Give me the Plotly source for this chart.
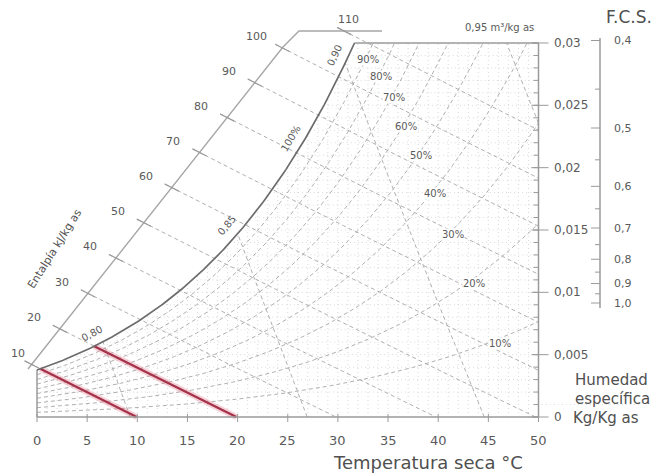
import numpy as np
import plotly.graph_objects as go

# ---------------- data ----------------
temp_ticks = [0, 5, 10, 15, 20, 25, 30, 35, 40, 45, 50]
w_ticks = [0.0, 0.005, 0.010, 0.015, 0.020, 0.025, 0.030]
w_tick_labels = ["0", "0,005", "0,01", "0,015", "0,02", "0,025", "0,03"]
rh_levels = [10, 20, 30, 40, 50, 60, 70, 80, 90]
rh_labels = ["10%", "20%", "30%", "40%", "50%", "60%", "70%", "80%", "90%"]
enthalpy_levels = [10, 20, 30, 40, 50, 60, 70, 80, 90, 100, 110]
enthalpy_labels = ["10", "20", "30", "40", "50", "60", "70", "80", "90", "100", "110"]
highlight_enthalpy = [10, 20]
volume_levels = [0.80, 0.85, 0.90, 0.95]
volume_labels = ["0,80", "0,85", "0,90", "0,95 m³/kg as"]
fcs_levels = [0.4, 0.5, 0.6, 0.7, 0.8, 0.9, 1.0]
fcs_labels = ["0,4", "0,5", "0,6", "0,7", "0,8", "0,9", "1,0"]
fcs_minor = [0.45, 0.55, 0.65, 0.75, 0.85, 0.95]
grid_temps = list(range(1, 50))
grid_ws = [i / 1000 for i in range(1, 30)]

# ---------------- layout constants ----------------
FIG_W, FIG_H = 659, 474
X0_PX, XS = 37.0, 10.03      # pixel of T=0, px per degC
Y0_PX, YS = 417.0, 12467.0   # pixel of W=0, px per kg/kg
T_MAX, W_MAX = 50.0, 0.030
P_ATM = 101.325
FONT = "DejaVu Sans"
TXT = "#5a5a5a"


def T_of_px(px):
    return (px - X0_PX) / XS


def W_of_py(py):
    return (Y0_PX - py) / YS


def dT(px):
    return px / XS


def dW(py_down):
    return -py_down / YS


# enthalpy scale polyline (pixel geometry of the guide line)
SCALE_PX = [(28, 369), (283, 47), (299, 31), (382, 31)]
SCALE_T = [T_of_px(p[0]) for p in SCALE_PX]
SCALE_W = [W_of_py(p[1]) for p in SCALE_PX]

# F.C.S. protractor scale geometry
FCS_T = T_of_px(600)
FCS_W0 = W_of_py(303)
FCS_K = 175.0 / YS


# ---------------- psychrometrics ----------------
def pws(T):
    return 0.61078 * np.exp(17.27 * T / (T + 237.3))


def w_rh(T, phi):
    p = phi * pws(T)
    return 0.622 * p / (P_ATM - p)


def h_of(T, Wv):
    return 1.006 * T + Wv * (2501 + 1.86 * T)


def w_h(T, h):
    return (h - 1.006 * T) / (2501 + 1.86 * T)


def t_v(Wv, v):
    return v * P_ATM / (0.287 * (1 + 1.608 * Wv)) - 273.15


def bisect(f, a, b, n=80):
    fa = f(a)
    for _ in range(n):
        m = 0.5 * (a + b)
        fm = f(m)
        if (fm > 0) == (fa > 0):
            a, fa = m, fm
        else:
            b = m
    return 0.5 * (a + b)


def t_sat_of_w(Wv):
    return bisect(lambda T: w_rh(T, 1.0) - Wv, -10, 60)


fig = go.Figure()


def add_line(x, y, color, width, dash=None, opacity=1.0):
    fig.add_trace(go.Scatter(
        x=list(x), y=list(y), mode="lines",
        line=dict(color=color, width=width, dash=dash),
        opacity=opacity, hoverinfo="skip", showlegend=False))


annotations = []


def ann(T, Wv, text, size, color=TXT, angle=0, xanchor="center", bg=None):
    d = dict(x=T, y=Wv, xref="x", yref="y", text=text, showarrow=False,
             font=dict(family=FONT, size=size, color=color),
             textangle=angle, xanchor=xanchor, yanchor="middle")
    if bg:
        d["bgcolor"] = bg
        d["borderpad"] = 0
    annotations.append(d)


def slope_angle(dw_dt):
    return -np.degrees(np.arctan(dw_dt * YS / XS))


t_sat_top = t_sat_of_w(W_MAX)

# ---------------- fine dotted grid ----------------
gx, gy = [], []
for t in grid_temps:
    top = min(w_rh(t, 1.0), W_MAX)
    gx += [t, t, None]
    gy += [0, top, None]
add_line(gx, gy, "#d0d0d0", 0.8, dash="1px,3px")
gx, gy = [], []
for w in grid_ws:
    gx += [max(0.0, t_sat_of_w(w)), T_MAX, None]
    gy += [w, w, None]
add_line(gx, gy, "#d0d0d0", 0.8, dash="1px,3px")

# ---------------- relative humidity curves ----------------
for rh in rh_levels:
    phi = rh / 100.0
    if w_rh(T_MAX, phi) > W_MAX:
        t_end = bisect(lambda T: w_rh(T, phi) - W_MAX, 0, T_MAX)
    else:
        t_end = T_MAX
    T = np.linspace(0, t_end, 160)
    add_line(T, w_rh(T, phi), "#b0b0b0", 1, dash="4px,3px")

# ---------------- specific volume lines ----------------
vol_sat = []
for v in volume_levels:
    if t_v(0, v) <= T_MAX:
        w_start = 0.0
    else:
        w_start = bisect(lambda w: t_v(w, v) - T_MAX, 0, 0.05)
    w_sat = bisect(lambda w: w_rh(t_v(w, v), 1.0) - w, 0, 0.06)
    w_end = min(w_sat, W_MAX)
    Wv = np.linspace(w_start, w_end, 40)
    add_line(t_v(Wv, v), Wv, "#b0b0b0", 1, dash="4px,3px")
    vol_sat.append((t_v(w_end, v), w_end, w_sat <= W_MAX))

# ---------------- enthalpy scale + lines ----------------
add_line(SCALE_T, SCALE_W, "#a6a6a6", 1.4)


def scale_point(h):
    for i in range(len(SCALE_T) - 1):
        t0, w0, t1, w1 = SCALE_T[i], SCALE_W[i], SCALE_T[i + 1], SCALE_W[i + 1]
        h0, h1 = h_of(t0, w0), h_of(t1, w1)
        if h0 <= h <= h1:
            s = bisect(lambda s: h_of(t0 + s * (t1 - t0), w0 + s * (w1 - w0)) - h, 0, 1)
            return t0 + s * (t1 - t0), w0 + s * (w1 - w0), i
    return None


for h, lab in zip(enthalpy_levels, enthalpy_labels):
    sp = scale_point(h)
    if sp is None:
        continue
    ts, ws, seg = sp
    t_end = min(h / 1.006, T_MAX)
    T = np.linspace(ts - dT(7), t_end, 40)
    add_line(T, w_h(T, h), "#b0b0b0", 1, dash="4px,3px")
    # tick cross on the scale
    Tt = np.array([ts - dT(7), ts + dT(7)])
    add_line(Tt, w_h(Tt, h), "#9a9a9a", 1.2)
    if seg == 0:
        lx = max(ts + dT(-26), T_of_px(18))
        ann(lx, ws + dW(-11), lab, 11)
    else:
        ann(ts + dT(4), ws + dW(-12), lab, 11)

# ---------------- highlighted enthalpy segments (red) ----------------
for h in highlight_enthalpy:
    t0 = bisect(lambda T: h_of(T, w_rh(T, 1.0)) - h, -5, 40)
    t1 = h / 1.006
    T = np.linspace(t0, t1, 30)
    add_line(T, w_h(T, h), "rgba(225,120,140,0.35)", 6)
    add_line(T, w_h(T, h), "#a3324a", 2.2)

# ---------------- boundaries ----------------
add_line([0, T_MAX], [0, 0], "#9a9a9a", 1.5)
add_line([0, 0], [0, w_rh(0, 1.0)], "#9a9a9a", 1.5)
add_line([T_MAX, T_MAX], [0, W_MAX], "#9a9a9a", 1.5)
add_line([t_sat_top, T_MAX], [W_MAX, W_MAX], "#9a9a9a", 1.5)
Tsat = np.linspace(0, t_sat_top, 200)
add_line(Tsat, w_rh(Tsat, 1.0), "#6c6c6c", 1.7)

# ---------------- right axis (humidity ratio) ----------------
tx, ty = [], []
for w in w_ticks:
    tx += [T_MAX - dT(7), T_MAX + dT(10), None]
    ty += [w, w, None]
for i in range(31):
    w = i / 1000
    tx += [T_MAX - dT(5), T_MAX, None]
    ty += [w, w, None]
add_line(tx, ty, "#9a9a9a", 1)
for w, lab in zip(w_ticks, w_tick_labels):
    ann(T_MAX + dT(13), w, lab, 12, xanchor="left")

# ---------------- bottom axis (dry bulb) ----------------
bx, by = [], []
for t in temp_ticks:
    bx += [t, t, None]
    by += [dW(-3), dW(5), None]
add_line(bx, by, "#9a9a9a", 1)
for t in temp_ticks:
    ann(t, dW(23), str(t), 13)
ann(T_of_px(428), W_of_py(462), "Temperatura seca °C", 18, color="#505050")

# ---------------- F.C.S. scale ----------------
def fcs_w(s):
    return FCS_W0 + FCS_K * (1 - s) / s


add_line([FCS_T, FCS_T], [W_of_py(308), W_of_py(38)], "#9a9a9a", 1.5)
fx, fy = [], []
for s in fcs_levels:
    fx += [FCS_T - dT(9), FCS_T, None]
    fy += [fcs_w(s), fcs_w(s), None]
for s in fcs_minor:
    fx += [FCS_T - dT(5), FCS_T, None]
    fy += [fcs_w(s), fcs_w(s), None]
add_line(fx, fy, "#9a9a9a", 1)
for s, lab in zip(fcs_levels, fcs_labels):
    ann(FCS_T + dT(12), fcs_w(s), lab, 11, xanchor="left")
ann(T_of_px(629), W_of_py(17), "F.C.S.", 17, color="#505050")

# ---------------- RH labels ----------------
rh_label_px = [500, 474, 453, 435, 421, 406, 394, 381, 368]
for rh, lab, px in zip(rh_levels, rh_labels, rh_label_px):
    t = T_of_px(px)
    ann(t, w_rh(t, rh / 100.0) + dW(5), lab, 10, bg="white")

# saturation label
t100 = T_of_px(305)
ann(t100 + dT(-14), w_rh(t100, 1.0), "100%", 10,
    angle=slope_angle((w_rh(t100 + 0.1, 1) - w_rh(t100 - 0.1, 1)) / 0.2))

# ---------------- volume labels ----------------
for (tv, wv, on_sat), lab in zip(vol_sat, volume_labels):
    if on_sat:
        ang = slope_angle((w_rh(tv + 0.1, 1) - w_rh(tv - 0.1, 1)) / 0.2)
        ann(tv + dT(-11), wv + dW(-8), lab, 10, angle=ang)
    else:
        ann(tv + dT(-7), wv + dW(-15), lab, 10)

# ---------------- side texts ----------------
ann(T_of_px(54), W_of_py(249), "Entalpía kJ/kg as", 11, color="#505050", angle=-58)
ann(T_of_px(573), W_of_py(380), "Humedad", 15, color="#505050", xanchor="left")
ann(T_of_px(573), W_of_py(399), "específica", 15, color="#505050", xanchor="left")
ann(T_of_px(571), W_of_py(418), "Kg/Kg as", 15, color="#505050", xanchor="left")

fig.update_layout(
    width=FIG_W, height=FIG_H,
    margin=dict(l=0, r=0, t=0, b=0),
    paper_bgcolor="white", plot_bgcolor="white",
    xaxis=dict(range=[T_of_px(0), T_of_px(FIG_W)], visible=False, fixedrange=True),
    yaxis=dict(range=[W_of_py(FIG_H), W_of_py(0)], visible=False, fixedrange=True),
    annotations=annotations,
    showlegend=False,
)

fig.write_html(
    "out.html",
    config={"displayModeBar": False},
    post_script="document.body.style.margin='0';document.body.style.overflow='hidden';",
)
